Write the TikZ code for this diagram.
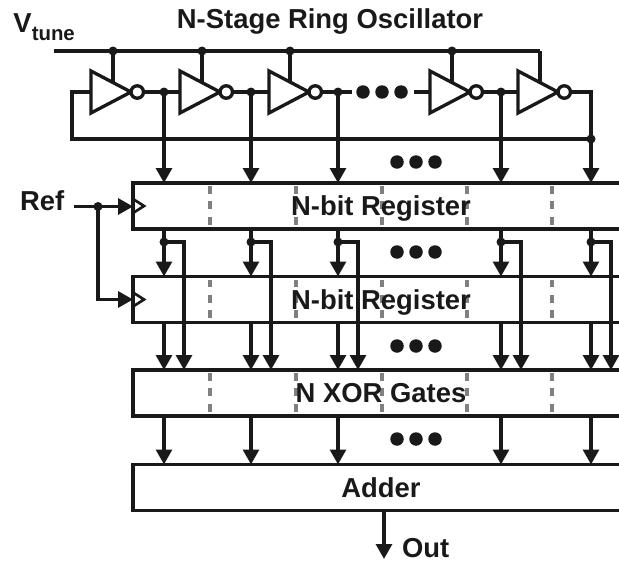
\documentclass[tikz,border=0pt]{standalone}
\usepackage{fontspec}
\setmainfont{Liberation Sans}
\usetikzlibrary{arrows.meta, shapes.geometric}

\begin{document}
\begin{tikzpicture}[x=0.02cm, y=-0.02cm]
    \tikzstyle{every node} = [inner sep=0, outer sep=0]
    \tikzstyle{wire} = [line width=1.9pt, black!90]
    \tikzstyle{sig} = [wire, -{Triangle[length=8.5pt, width=9pt]}]
    \tikzstyle{txt} = [font=\fontsize{15.6}{18}\selectfont\bfseries, black!90]
    \tikzstyle{block} = [draw=black!90, line width=2pt, minimum width=9.92cm, minimum height=0.92cm, text height=11pt, text depth=0pt, txt]
    \tikzstyle{inverter} = [draw=black!90, line width=1.9pt, fill=white, isosceles triangle, isosceles triangle stretches, shape border rotate=0, minimum width=0.84cm, minimum height=0.8cm, anchor=west]
    \tikzstyle{bubble} = [draw=black!90, line width=1.9pt, fill=white, circle, minimum size=0.25cm, anchor=west]
    \tikzstyle{junction} = [fill=black!90, circle, minimum size=0.18cm]
    \tikzstyle{bigdot} = [fill=black!90, circle, minimum size=0.27cm]
    \tikzstyle{slice} = [line width=1.9pt, gray, dash pattern=on 4.4pt off 4.4pt]
    \tikzstyle{clock} = [line width=1.5pt, black!90]

    \useasboundingbox (0, 0) rectangle (619, 561);
    \clip (0, 0) rectangle (619, 561);

    % supply line and the ring
    \coordinate (vstart) at (54, 51);
    \foreach \n/\x/\d in {1/91/113, 2/180/202, 3/269/290, 4/430/452, 5/518/540} {
      \coordinate (vdd\n) at (\d, 51);
      \coordinate (gate\n) at (\d, 82);
      \draw [wire] (vdd\n) -- (gate\n);
      \node [inverter] (inv\n) at (\x, 92) {};
      \node [bubble] (bub\n) at (inv\n.east) {};
    }
    \draw [wire] (vstart) -- (vdd5);
    \foreach \n in {1, 2, 3, 4}
      \node [junction] (vj\n) at (vdd\n) {};

    \foreach \n/\x in {1/164, 2/251, 3/338, 4/501, 5/591}
      \coordinate (tap\n) at (\x, 92);

    \draw [wire] (bub1.east) -- (inv2.west);
    \draw [wire] (bub2.east) -- (inv3.west);
    \coordinate (gapL) at (352, 92);
    \coordinate (gapR) at (414, 92);
    \draw [wire] (bub3.east) -- (gapL);
    \draw [wire] (gapR) -- (inv4.west);
    \draw [wire] (bub4.east) -- (inv5.west);

    \foreach \n/\x in {1/363, 2/382, 3/401}
      \node [bigdot] (ringdot\n) at (\x, 92) {};

    % feedback
    \coordinate (fb) at (591, 139);
    \coordinate (fbcorner) at (72, 139);
    \draw [wire] (bub5.east) -| (fb);
    \draw [wire] (fb) -- (fbcorner) |- (inv1.west);
    \node [junction] (fbj) at (fb) {};

    % dashes go under the block texts
    \foreach \y in {206, 299.5, 393}
      \foreach \x in {210, 296, 382, 467, 552}
        \draw [slice] (\x, \y - 20) -- (\x, \y + 20);

    % blocks
    \node [block] (regA) at (381, 206) {N-bit Register};
    \node [block] (regB) at (381, 299.5) {N-bit Register};
    \node [block] (xorC) at (381, 393) {N XOR Gates};
    \node [block] (addD) at (381, 487.5) {Adder};

    % vertical connections
    \foreach \n/\x in {1/184, 2/271, 3/358, 4/521, 5/611} {
      \draw [sig] (tap\n) -- (tap\n |- regA.north);
      \coordinate (hold\n) at (tap\n |- 0, 242);
      \coordinate (bend\n) at (\x, 242);
      \draw [sig] (tap\n |- regA.south) -- (tap\n |- regB.north);
      \draw [sig] (hold\n) -- (bend\n) -- (bend\n |- xorC.north);
      \draw [sig] (tap\n |- regB.south) -- (tap\n |- xorC.north);
      \draw [sig] (tap\n |- xorC.south) -- (tap\n |- addD.north);
      \node [junction] (holdj\n) at (hold\n) {};
    }
    \foreach \n in {1, 2, 3, 4}
      \node [junction] (tapj\n) at (tap\n) {};

    % dots between the blocks
    \foreach \r/\y in {a/162, b/252, c/346, d/439}
      \foreach \n/\x in {1/397, 2/416, 3/435}
        \node [bigdot] (dot\r\n) at (\x, \y) {};

    % reference clock
    \node [txt, anchor=base west] (ref) at (20, 210) {Ref};
    \coordinate (refstart) at (74, 206.5);
    \coordinate (refj) at (98, 206.5);
    \coordinate (refturn) at (98, 299.5);
    \draw [sig] (refstart) -- (refstart -| regA.west);
    \draw [sig] (refj) -- (refturn) -- (refturn -| regB.west);
    \node [junction] (refdot) at (refj) {};
    \foreach \b in {regA, regB}
      \draw [clock] (\b.west) ++(0, -7) -- ++(11, 7) -- ++(-11, 7);

    % titles
    \node [txt, anchor=base] (title) at (330, 29) {N-Stage Ring Oscillator};
    \node [txt, anchor=base west] (vtune) at (13.5, 32) {V\raisebox{-5pt}{\fontsize{11.6}{12}\selectfont tune}};

    % output
    \coordinate (outend) at (384, 559);
    \draw [sig] (outend |- addD.south) -- (outend);
    \node [txt, anchor=base west] (out) at (402, 557.5) {Out};
\end{tikzpicture}
\end{document}
